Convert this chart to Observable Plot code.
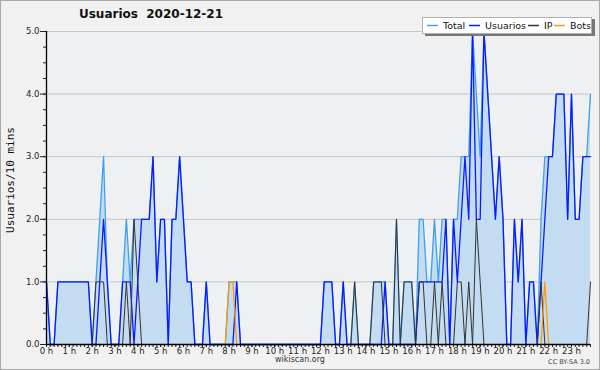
<!DOCTYPE html>
<html><head><meta charset="utf-8">
<script src="https://cdn.jsdelivr.net/npm/d3@7"></script>
<script src="https://cdn.jsdelivr.net/npm/@observablehq/plot@0.6"></script>
<style>
body{margin:0;background:#fff;}
#wrap{position:relative;width:600px;height:370px;background:#f1f1f1;overflow:hidden;font-family:"DejaVu Sans",sans-serif;}
#wrap svg{position:absolute;left:0;top:0;}
.abs{position:absolute;white-space:nowrap;}
#border{position:absolute;left:0;top:0;width:600px;height:370px;box-sizing:border-box;border:1px solid #a8a8a8;pointer-events:none;}
#title{left:0;width:302px;top:7px;text-align:center;font-weight:bold;font-size:12px;color:#111;}
#ylab{left:10px;top:180px;transform:translate(-50%,-50%) rotate(-90deg);font-family:"DejaVu Sans Mono",monospace;font-size:11px;color:#111;}
#legend{left:422px;top:17px;width:168px;height:15px;background:#fff;border:1px solid #b0b0b0;box-shadow:3px 2px 0 #777;}
#foot{left:0;width:600px;top:355px;text-align:center;font-size:8px;color:#333;}
#cc{right:10px;top:358px;font-size:6.5px;color:#444;}
</style></head>
<body>
<div id="wrap">
<div id="chart"></div>
<div class="abs" id="title">Usuarios&nbsp;&nbsp;2020-12-21</div>
<div class="abs" id="ylab">Usuarios/10 mins</div>
<div class="abs" id="legend"></div>
<div class="abs" id="foot">wikiscan.org</div>
<div class="abs" id="cc">CC BY-SA 3.0</div>
<div id="border"></div>
</div>
<script>
// 10-minute slots, 0h..23h50
const usuarios = [
1,0,0,1,1,1,1,1,1,1,
1,1,0,0,1,2,1,0,0,0,
1,1,1,0,1,2,2,2,3,1,
2,2,0,2,2,3,2,1,1,0,
0,0,1,0,0,0,0,0,0,0,
1,0,0,0,0,0,0,0,0,0,
0,0,0,0,0,0,0,0,0,0,
0,0,0,1,1,1,0,0,1,0,
0,0,0,0,0,0,0,0,0,1,
0,0,0,0,0,0,0,0,1,1,
1,1,1,1,1,2,0,2,1,2,
3,2,5,2,2,5,4,3,2,3,
2,0,0,2,1,2,0,1,1,0,
1,2,3,3,4,4,4,2,4,2,
2,3,3,3];
const ip = [
0,0,0,0,0,0,0,0,0,0,
0,0,0,1,1,1,0,0,0,0,
0,1,0,2,1,0,0,0,0,0,
0,0,0,0,0,0,0,0,0,0,
0,0,0,0,0,0,0,0,0,0,
0,0,0,0,0,0,0,0,0,0,
0,0,0,0,0,0,0,0,0,0,
0,0,0,0,0,0,0,0,0,0,
0,1,0,0,0,0,1,1,1,0,
0,0,2,0,1,1,1,0,1,1,
0,0,1,0,1,0,0,0,1,1,
0,1,0,2,1,0,0,0,0,0,
0,0,0,0,0,0,0,0,0,0,
1,0,0,0,0,0,0,0,0,0,
0,0,0,1];
const bots = [
0,0,0,0,0,0,0,0,0,0,
0,0,0,0,0,0,0,0,0,0,
0,0,0,0,0,0,0,0,0,0,
0,0,0,0,0,0,0,0,0,0,
0,0,0,0,0,0,0,0,1,1,
0,0,0,0,0,0,0,0,0,0,
0,0,0,0,0,0,0,0,0,0,
0,0,0,0,0,0,0,0,0,0,
0,0,0,0,0,0,0,0,0,0,
0,0,0,0,0,0,0,0,0,0,
0,0,0,0,0,0,0,0,0,0,
0,0,0,0,0,0,0,0,0,0,
0,0,0,0,0,0,0,0,0,0,
0,1,0,0,0,0,0,0,0,0,
0,0,0,0];
const total = [
1,0,0,1,1,1,1,1,1,1,
1,1,0,1,2,3,1,0,0,0,
1,2,1,2,2,2,2,2,3,1,
2,2,0,2,2,3,2,1,1,0,
0,0,1,0,0,0,0,0,1,1,
1,0,0,0,0,0,0,0,0,0,
0,0,0,0,0,0,0,0,0,0,
0,0,0,1,1,1,0,0,1,0,
0,1,0,0,0,0,1,1,1,1,
0,0,2,0,1,1,1,0,2,2,
1,1,2,1,2,2,0,2,2,3,
3,3,5,4,3,5,4,3,2,3,
2,0,0,2,1,2,0,1,1,0,
2,3,3,3,4,4,4,2,4,2,
2,3,3,4];
const hourTicks = d3.range(0,24);
const yTicks = [0,1,2,3,4,5];
const series = [
  {name:"Total", color:"#3fa0f2"},
  {name:"Usuarios", color:"#0a1cff"},
  {name:"IP", color:"#333333"},
  {name:"Bots", color:"#ff9a00"}
];

const data = total.map((t,i)=>({h:i/6,total:t,usuarios:usuarios[i],ip:ip[i],bots:bots[i]}));

const chart = Plot.plot({
  width:600, height:370,
  marginLeft:46, marginRight:10, marginTop:31, marginBottom:26,
  x:{domain:[0,143/6]},
  y:{domain:[0,5]},
  style:{background:"transparent", fontFamily:"DejaVu Sans, sans-serif", fontSize:"8.5px", color:"#222"},
  marks:[
    Plot.frame({fill:"#eef0f2", stroke:null}),
    Plot.ruleY(yTicks.slice(1),{stroke:"#c6c6c6", strokeWidth:1}),
    Plot.areaY(data,{x:"h", y:"total", fill:"#c4dcf1"}),
    Plot.lineY(data,{x:"h", y:"total", stroke:series[0].color, strokeWidth:1.3}),
    Plot.lineY(data,{x:"h", y:"usuarios", stroke:series[1].color, strokeWidth:1.3}),
    Plot.lineY(data,{x:"h", y:"ip", stroke:series[2].color, strokeWidth:1}),
    Plot.lineY(data,{x:"h", y:"bots", stroke:series[3].color, strokeWidth:1.2}),
    Plot.axisY({ticks:yTicks, tickFormat:d=>d.toFixed(1), tickSize:6, tickPadding:1, label:null}),
    Plot.axisY({ticks:d3.range(0,21).map(k=>k/4), tickSize:3, tickFormat:()=>"", label:null}),
    Plot.axisX({ticks:hourTicks, tickFormat:d=>d+" h", tickSize:3, tickPadding:0, label:null}),
    Plot.axisX({ticks:d3.range(0,144).map(k=>k/6), tickSize:3, tickFormat:()=>"", label:null}),
    Plot.ruleX([0],{stroke:"#000", strokeWidth:1.3}),
    Plot.ruleY([0],{stroke:"#000", strokeWidth:1.3})
  ]
});
document.getElementById("chart").appendChild(chart);

// legend as a small svg
const ns = "http://www.w3.org/2000/svg";
const lsvg = document.createElementNS(ns,"svg");
lsvg.setAttribute("width","168"); lsvg.setAttribute("height","15");
lsvg.style.position="static";
const legX = [4, 46, 105, 131];
series.forEach((s,k)=>{
  const l = document.createElementNS(ns,"line");
  l.setAttribute("x1",legX[k]); l.setAttribute("x2",legX[k]+11);
  l.setAttribute("y1",7.5); l.setAttribute("y2",7.5);
  l.setAttribute("stroke",s.color); l.setAttribute("stroke-width",1.5);
  lsvg.appendChild(l);
  const t = document.createElementNS(ns,"text");
  t.setAttribute("x",legX[k]+16); t.setAttribute("y",11);
  t.setAttribute("font-size","9.5"); t.setAttribute("fill","#111");
  t.setAttribute("font-family","DejaVu Sans, sans-serif");
  t.textContent = s.name;
  lsvg.appendChild(t);
});
document.getElementById("legend").appendChild(lsvg);
</script>
</body></html>
